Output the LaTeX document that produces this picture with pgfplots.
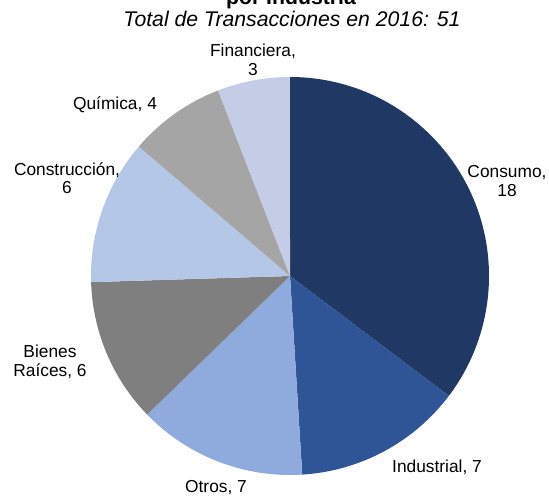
\documentclass[border=0pt]{standalone}
\usepackage{fontspec}
\setmainfont{Liberation Sans}
\usepackage{xcolor}
\usepackage{pgfplots}
\usepackage{pgfplotstable}
\pgfplotsset{compat=1.18}

\definecolor{cConsumo}{HTML}{203864}
\definecolor{cIndustrial}{HTML}{2F5597}
\definecolor{cOtros}{HTML}{8FAADC}
\definecolor{cBienes}{HTML}{7F7F7F}
\definecolor{cConstr}{HTML}{B4C7E7}
\definecolor{cQuimica}{HTML}{A5A5A5}
\definecolor{cFin}{HTML}{C4CCE6}

% slices clockwise from 12 o'clock
\pgfplotstableread{
name        value col
Consumo     18    cConsumo
Industrial  7     cIndustrial
Otros       7     cOtros
Bienes      6     cBienes
Construccion 6    cConstr
Quimica     4     cQuimica
Financiera  3     cFin
}\piedata

\newcommand{\lbl}{\fontsize{17.4}{18.5}\selectfont}

\begin{document}
\begin{tikzpicture}
\begin{axis}[
  at={(290bp,220bp)}, anchor=center,
  x=1bp, y=1bp,
  xmin=-200, xmax=200, ymin=-200, ymax=200,
  hide axis, clip=false,
]
\pgfplotstablegetrowsof{\piedata}
\pgfmathtruncatemacro{\nrows}{\pgfplotsretval-1}
\def\total{0}
\pgfplotsforeachungrouped \i in {0,...,\nrows}{%
  \pgfplotstablegetelem{\i}{value}\of\piedata
  \pgfmathsetmacro{\total}{\total+\pgfplotsretval}%
}
\def\angA{90}
\pgfplotsforeachungrouped \i in {0,...,\nrows}{%
  \pgfplotstablegetelem{\i}{value}\of\piedata \let\val\pgfplotsretval
  \pgfplotstablegetelem{\i}{col}\of\piedata \let\col\pgfplotsretval
  \pgfmathsetmacro{\angB}{\angA-\val/\total*360}%
  \pgfmathsetmacro{\xA}{199*cos(\angA)}%
  \pgfmathsetmacro{\yA}{199*sin(\angA)}%
  \edef\doslice{\noexpand\fill[\col] (axis cs:0,0) -- (axis cs:\xA,\yA)
    arc[start angle=\angA, end angle=\angB, radius=199bp] -- cycle;}%
  \doslice
  \global\let\angA\angB
}

\node[align=center, font=\lbl] at (axis cs:217,95) {Consumo,\\18};
\node[font=\lbl] at (axis cs:147,-191) {Industrial, 7};
\node[font=\lbl] at (axis cs:-74,-212) {Otros, 7};
\node[align=center, font=\lbl] at (axis cs:-240,-86) {Bienes\\Raíces, 6};
\node[align=center, font=\lbl] at (axis cs:-223,98) {Construcción,\\6};
\node[font=\lbl] at (axis cs:-175,171) {Química, 4};
\node[align=center, font=\lbl] at (axis cs:-37,216) {Financiera,\\3};
\end{axis}

\node[anchor=base, font=\fontsize{21.3}{23}\selectfont\bfseries] at (291bp,491bp) {por Industria};
\node[anchor=base, font=\fontsize{21.3}{23}\selectfont\itshape] at (292bp,469bp) {Total de Transacciones en 2016: 51};

\pgfresetboundingbox
\useasboundingbox (0bp,0bp) rectangle (549bp,496bp);
\end{tikzpicture}
\end{document}
